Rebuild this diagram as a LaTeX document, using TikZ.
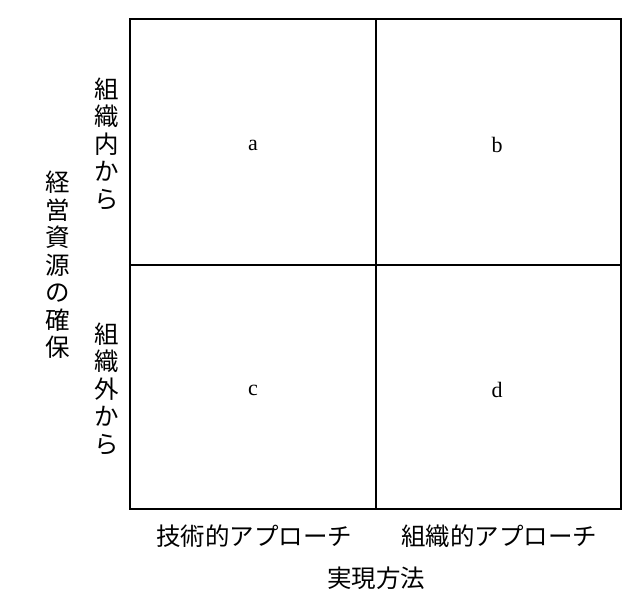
\documentclass[tikz,border=0pt]{standalone}
\usepackage{fontspec}
\setmainfont{Liberation Serif}
\newfontfamily\jp{Noto Sans CJK JP}
\begin{document}
\begin{tikzpicture}[x=1pt,y=-1pt,
  jlab/.style={font=\jp\fontsize{24.5}{27.5}\selectfont, inner sep=0pt},
  vlab/.style={jlab, align=center},
  cell/.style={font=\fontsize{22}{24}\selectfont, inner sep=0pt},
  frame/.style={line width=1.7pt}]
\useasboundingbox (0,0) rectangle (630,608);
\coordinate (tl) at (130,19);
\coordinate (br) at (621,509);
\coordinate (mt) at (376,19);
\coordinate (mb) at (376,509);
\coordinate (ml) at (130,265);
\coordinate (mr) at (621,265);
\draw[frame] (tl) rectangle (br);
\draw[frame] (mt) -- (mb);
\draw[frame] (ml) -- (mr);
\node[cell] (a) at (253,145) {a};
\node[cell] (b) at (497,145) {b};
\node[cell] (c) at (253,390) {c};
\node[cell] (d) at (497,390) {d};
\node[vlab] (in) at (107,144) {組\\織\\内\\か\\ら};
\node[vlab] (out) at (107,389) {組\\織\\外\\か\\ら};
\node[vlab] (res) at (58,265) {経\\営\\資\\源\\の\\確\\保};
\node[jlab] (tech) at (254,536) {技術的アプローチ};
\node[jlab] (org) at (499,536) {組織的アプローチ};
\node[jlab] (meth) at (376,578) {実現方法};
\end{tikzpicture}
\end{document}
